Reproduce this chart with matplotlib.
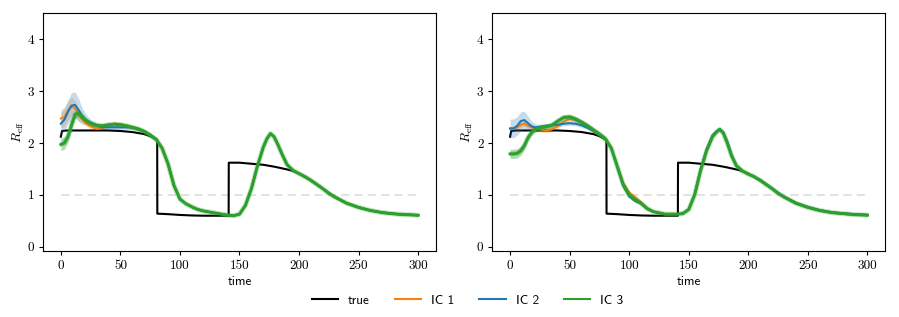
import numpy as np
import matplotlib
matplotlib.use("Agg")
import matplotlib.pyplot as plt
from matplotlib.ticker import FuncFormatter, MultipleLocator
from matplotlib.lines import Line2D

plt.rcParams['mathtext.fontset'] = 'cm'
plt.rcParams['font.family'] = ['DejaVu Sans']

# ---------------- data ----------------
time_early = [0, 3, 6, 9, 12, 15, 18, 21, 25, 30, 35, 40, 45, 50, 55, 60, 65, 70, 75, 80]
time_late = [85, 90, 95, 100, 105, 110, 115, 120, 130, 140, 145, 150, 155, 160, 165, 170,
             173, 176, 179, 182, 186, 190, 195, 200, 205, 210, 215, 220, 225, 230, 240, 250,
             260, 270, 280, 290, 300]

# left panel
left_ic1_early = [2.47, 2.50, 2.62, 2.71, 2.66, 2.54, 2.45, 2.38, 2.32, 2.27, 2.29, 2.34,
                  2.37, 2.36, 2.33, 2.30, 2.26, 2.21, 2.15, 2.07]
left_ic2_early = [2.37, 2.45, 2.60, 2.72, 2.73, 2.63, 2.52, 2.45, 2.38, 2.33, 2.30, 2.30,
                  2.30, 2.30, 2.30, 2.30, 2.27, 2.23, 2.16, 2.07]
left_ic3_early = [1.97, 2.00, 2.12, 2.35, 2.55, 2.57, 2.50, 2.43, 2.38, 2.34, 2.33, 2.35,
                  2.36, 2.35, 2.33, 2.30, 2.27, 2.22, 2.15, 2.07]
left_late = [1.90, 1.60, 1.18, 0.92, 0.83, 0.77, 0.72, 0.69, 0.65, 0.61, 0.60, 0.63, 0.80,
             1.12, 1.55, 1.92, 2.08, 2.18, 2.12, 1.98, 1.77, 1.58, 1.47, 1.41, 1.35, 1.28,
             1.20, 1.12, 1.03, 0.96, 0.84, 0.76, 0.70, 0.66, 0.635, 0.62, 0.61]

# right panel
right_ic1_early = [2.27, 2.28, 2.30, 2.35, 2.37, 2.33, 2.30, 2.28, 2.26, 2.24, 2.26, 2.32,
                   2.41, 2.46, 2.44, 2.38, 2.31, 2.23, 2.16, 2.08]
right_ic2_early = [2.28, 2.28, 2.33, 2.42, 2.44, 2.38, 2.32, 2.30, 2.31, 2.33, 2.34, 2.35,
                   2.37, 2.38, 2.37, 2.34, 2.29, 2.23, 2.16, 2.08]
right_ic3_early = [1.79, 1.79, 1.80, 1.85, 1.95, 2.10, 2.20, 2.26, 2.29, 2.31, 2.34, 2.42,
                   2.49, 2.50, 2.46, 2.40, 2.33, 2.25, 2.17, 2.08]
right_ic1_late = [1.90, 1.56, 1.23, 1.05, 0.96, 0.86, 0.75, 0.68, 0.63, 0.63, 0.64, 0.72,
                  1.00, 1.47, 1.85, 2.12, 2.20, 2.26, 2.19, 2.02, 1.75, 1.56, 1.46, 1.40,
                  1.35, 1.28, 1.20, 1.12, 1.03, 0.96, 0.84, 0.76, 0.70, 0.66, 0.64, 0.62,
                  0.615]
right_ic2_late = [1.90, 1.54, 1.17, 0.97, 0.88, 0.83, 0.73, 0.68, 0.63, 0.63, 0.64, 0.72,
                  1.02, 1.50, 1.88, 2.15, 2.22, 2.27, 2.21, 2.05, 1.78, 1.57, 1.47, 1.40,
                  1.35, 1.29, 1.21, 1.13, 1.04, 0.97, 0.85, 0.77, 0.71, 0.67, 0.645, 0.63,
                  0.62]
right_ic3_late = [1.90, 1.55, 1.20, 1.00, 0.91, 0.84, 0.74, 0.68, 0.63, 0.63, 0.64, 0.72,
                  1.00, 1.47, 1.85, 2.12, 2.20, 2.26, 2.19, 2.02, 1.75, 1.56, 1.46, 1.40,
                  1.35, 1.28, 1.20, 1.12, 1.03, 0.96, 0.84, 0.76, 0.70, 0.66, 0.64, 0.62,
                  0.61]

# uncertainty half-widths over the early period
left_ic1_band = [0.18, 0.18, 0.18, 0.17, 0.15, 0.12, 0.08, 0.06, 0.05, 0.04, 0.04, 0.04,
                 0.04, 0.04, 0.03, 0.03, 0.03, 0.03, 0.03, 0.03]
left_ic2_band = [0.22, 0.22, 0.23, 0.25, 0.25, 0.22, 0.15, 0.10, 0.07, 0.05, 0.04, 0.04,
                 0.04, 0.04, 0.04, 0.04, 0.03, 0.03, 0.03, 0.03]
left_ic3_band = [0.12, 0.12, 0.11, 0.10, 0.08, 0.07, 0.06, 0.05, 0.05, 0.04, 0.04, 0.04,
                 0.04, 0.04, 0.04, 0.04, 0.04, 0.04, 0.04, 0.04]
right_ic1_band = [0.05, 0.05, 0.05, 0.05, 0.05, 0.05, 0.05, 0.05, 0.05, 0.05, 0.04, 0.04,
                  0.04, 0.04, 0.04, 0.04, 0.03, 0.03, 0.03, 0.03]
right_ic2_band = [0.18, 0.18, 0.18, 0.18, 0.17, 0.14, 0.10, 0.07, 0.05, 0.04, 0.04, 0.04,
                  0.04, 0.04, 0.04, 0.04, 0.03, 0.03, 0.03, 0.03]
right_ic3_band = [0.09, 0.09, 0.09, 0.09, 0.08, 0.07, 0.06, 0.06, 0.06, 0.05, 0.05, 0.05,
                  0.05, 0.05, 0.05, 0.05, 0.05, 0.05, 0.05, 0.05]

true_t = [0, 1, 5, 20, 40, 50, 60, 70, 75, 80, 80.9, 81, 90, 100, 110, 120, 130, 140, 140.9,
          141, 150, 160, 170, 180, 190, 195, 200, 210, 220, 230, 240, 250, 260, 270, 280,
          290, 300]
true_r = [2.12, 2.23, 2.24, 2.24, 2.24, 2.23, 2.21, 2.17, 2.13, 2.07, 2.06, 0.64, 0.63,
          0.615, 0.605, 0.60, 0.60, 0.60, 0.60, 1.62, 1.62, 1.60, 1.58, 1.54, 1.49, 1.46,
          1.41, 1.28, 1.12, 0.96, 0.84, 0.76, 0.70, 0.66, 0.635, 0.62, 0.61]

threshold = 1.0
labels = ['true', 'IC 1', 'IC 2', 'IC 3']
colors = ['black', '#ff7f0e', '#1f77b4', '#2ca02c']

# ---------------- plotting ----------------
fig = plt.figure(figsize=(8.99, 3.17), dpi=100)
axL = fig.add_axes([0.0478, 0.208, 0.4372, 0.751])
axR = fig.add_axes([0.5475, 0.208, 0.4372, 0.751])

panels = [
    (axL, [left_ic1_early + left_late, left_ic2_early + left_late, left_ic3_early + left_late],
     [left_ic1_band, left_ic2_band, left_ic3_band]),
    (axR, [right_ic1_early + right_ic1_late, right_ic2_early + right_ic2_late,
           right_ic3_early + right_ic3_late],
     [right_ic1_band, right_ic2_band, right_ic3_band]),
]

t_all = np.array(time_early + time_late)
te = np.array(time_early)
fmt = FuncFormatter(lambda v, p: '%g' % v)

for ax, series, bands in panels:
    ax.hlines(threshold, t_all[0], t_all[-1], colors='#dddddd', linestyles=(0, (5, 3)),
              lw=1.2, zorder=1)
    ax.plot(true_t, true_r, color=colors[0], lw=1.5, zorder=3)
    for i, (ys, bw) in enumerate(zip(series, bands)):
        c = colors[i + 1]
        ys = np.array(ys)
        bw = np.array(bw)
        ye = ys[:len(te)]
        balpha = 0.25 if i < 2 else 0.35
        ax.fill_between(te, ye - bw, ye + bw, color=c, alpha=balpha, lw=0, zorder=2 + i)
        if i == 2:
            ax.plot(t_all, ys, color=c, lw=3.6, alpha=0.3, zorder=4 + i,
                    solid_capstyle='butt')
            ax.plot(t_all, ys, color=c, lw=2.1, zorder=5 + i)
        else:
            ax.plot(t_all, ys, color=c, lw=1.5, zorder=4 + i)
    ax.set_xlim(-15, 315)
    ax.set_ylim(-0.08, 4.5)
    ax.xaxis.set_major_locator(MultipleLocator(50))
    ax.yaxis.set_major_locator(MultipleLocator(1))
    ax.xaxis.set_major_formatter(fmt)
    ax.yaxis.set_major_formatter(fmt)
    ax.tick_params(labelsize=9.5, length=2.7, width=0.8, pad=3.6)
    for lab in ax.get_xticklabels() + ax.get_yticklabels():
        lab.set_fontfamily('cmr10')
    ax.set_xlabel('time', fontsize=9.5, fontfamily='cmss10', labelpad=3)
    ax.set_ylabel(r'$R_{\rm eff}$', fontsize=9.5, labelpad=1.5)
    for s in ax.spines.values():
        s.set_linewidth(0.8)

handles = [Line2D([], [], color=c, lw=1.5) for c in colors]
fig.legend(handles, labels, loc='center', bbox_to_anchor=(0.52, 0.052), ncol=4,
           frameon=False, prop={'family': 'cmss10', 'size': 9.5}, handlelength=2.0,
           columnspacing=1.9, handletextpad=0.75)

fig.savefig('out.png', dpi=100)
